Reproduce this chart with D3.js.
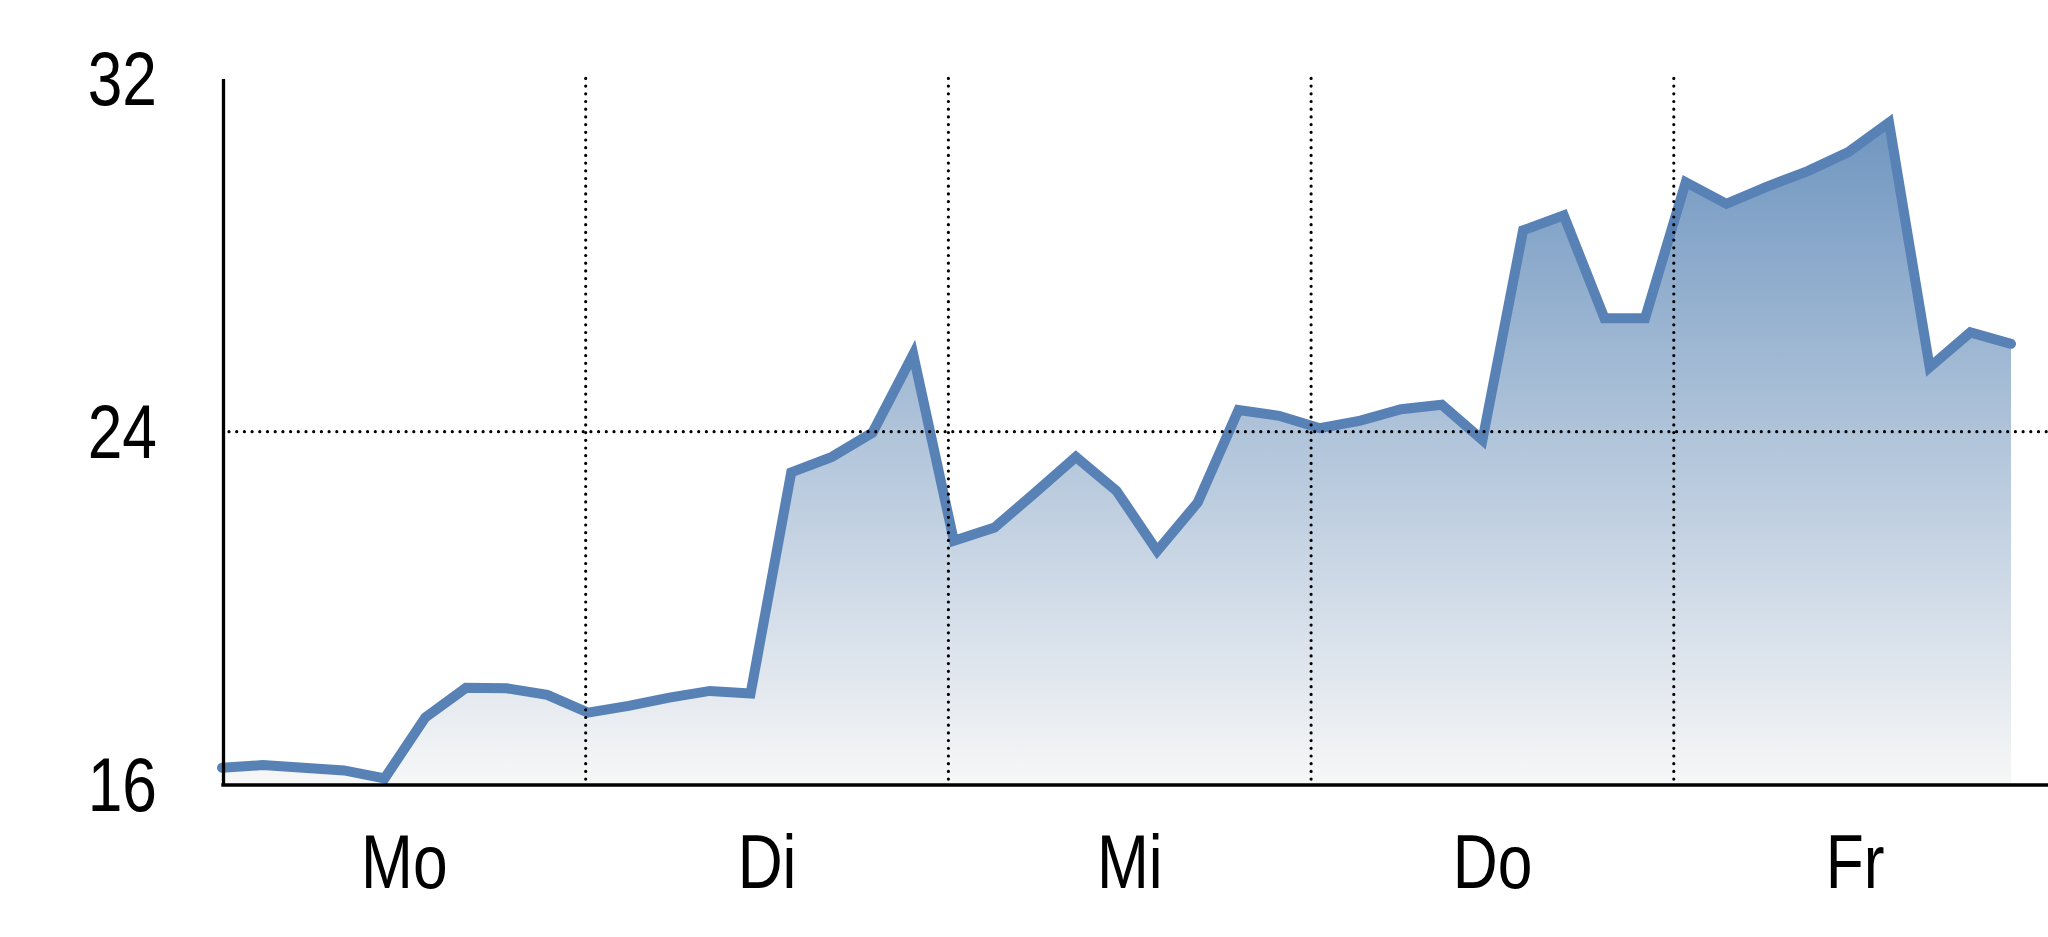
<!DOCTYPE html>
<html><head><meta charset="utf-8">
<script src="https://cdn.jsdelivr.net/npm/d3@7"></script>
<style>html,body{margin:0;padding:0;background:#fff;} svg{display:block}</style>
</head><body>
<svg id="chart" width="2048" height="937"></svg>
<script>
const days = ["Mo", "Di", "Mi", "Do", "Fr"];
const yTicks = [16, 24, 32];
const gridValues = [24];
const values = [
  16.39, 16.45, 16.39, 16.33, 16.15, 17.53, 18.20, 18.19, 18.04,
  17.64, 17.79, 17.98, 18.13, 18.07, 23.08, 23.43, 23.98, 25.75,
  21.53, 21.83, 22.62, 23.43, 22.66, 21.30, 22.40, 24.49, 24.36,
  24.08, 24.25, 24.51, 24.61, 23.81, 28.56, 28.90, 26.57, 26.57,
  29.65, 29.16, 29.55, 29.90, 30.33, 31.00, 25.46, 26.25, 25.99
];

const W = 2048, H = 937;
const font = "'Liberation Sans', Arial, sans-serif";
const narrow = 0.82;
const svg = d3.select("#chart");

const y = d3.scaleLinear().domain([16, 32]).range([785, 78.4]);
const x = d3.scaleLinear().domain([0, values.length - 1]).range([222, 2011]);
const xDay = d3.scaleBand().domain(days).range([223, 2036.5]);

const defs = svg.append("defs");
const grad = defs.append("linearGradient")
  .attr("id", "fillGrad").attr("gradientUnits", "userSpaceOnUse")
  .attr("x1", 0).attr("x2", 0)
  .attr("y1", y(d3.max(values))).attr("y2", y(16));
grad.append("stop").attr("offset", 0).attr("stop-color", "#7096c0");
grad.append("stop").attr("offset", 1).attr("stop-color", "#f7f7f7");

const area = d3.area().x((d, i) => x(i)).y0(y(16)).y1(d => y(d));
const line = d3.line().x((d, i) => x(i)).y(d => y(d));

svg.append("path").datum(values).attr("d", area).attr("fill", "url(#fillGrad)");
svg.append("path").datum(values).attr("d", line)
  .attr("fill", "none").attr("stroke", "#5882b5").attr("stroke-width", 10)
  .attr("stroke-linejoin", "miter").attr("stroke-miterlimit", 4)
  .attr("stroke-linecap", "round");

// gridlines
const gridStyle = sel => sel.attr("stroke", "#000").attr("stroke-width", 3.2)
  .attr("stroke-dasharray", "0,7.7").attr("stroke-linecap", "round");
svg.append("g").selectAll("line").data(days.slice(1)).join("line")
  .attr("x1", d => xDay(d)).attr("x2", d => xDay(d))
  .attr("y1", y(32)).attr("y2", y(16))
  .call(gridStyle);
svg.append("g").selectAll("line").data(gridValues).join("line")
  .attr("x1", xDay.range()[0] + 6).attr("x2", W)
  .attr("y1", d => y(d)).attr("y2", d => y(d))
  .call(gridStyle);

function condense(sel) {
  sel.each(function () {
    const t = d3.select(this);
    const tx = +t.attr("x") || 0, ty = +t.attr("y") || 0;
    t.attr("transform", `translate(${tx},${ty}) scale(${narrow},1)`).attr("x", 0).attr("y", 0);
  });
}

// y axis
const yAxis = svg.append("g").attr("transform", `translate(${xDay.range()[0]},0)`)
  .call(d3.axisLeft(y).tickValues(yTicks).tickSize(0).tickSizeOuter(0).tickPadding(66));
yAxis.select(".domain").attr("stroke", "#000").attr("stroke-width", 3.3);
yAxis.selectAll("text").attr("font-family", font).attr("font-size", 76)
  .attr("fill", "#000").attr("dy", "0.34em").call(condense);

// x axis
const xAxis = svg.append("g").attr("transform", `translate(0,${y(16)})`)
  .call(d3.axisBottom(xDay).tickSize(0).tickSizeOuter(0).tickPadding(49));
xAxis.select(".domain").remove();
xAxis.selectAll("text").attr("font-family", font).attr("font-size", 76).attr("fill", "#000").call(condense);
svg.append("line")
  .attr("x1", xDay.range()[0] - 1.65).attr("x2", W)
  .attr("y1", y(16)).attr("y2", y(16))
  .attr("stroke", "#000").attr("stroke-width", 3.3);
</script>
</body></html>
